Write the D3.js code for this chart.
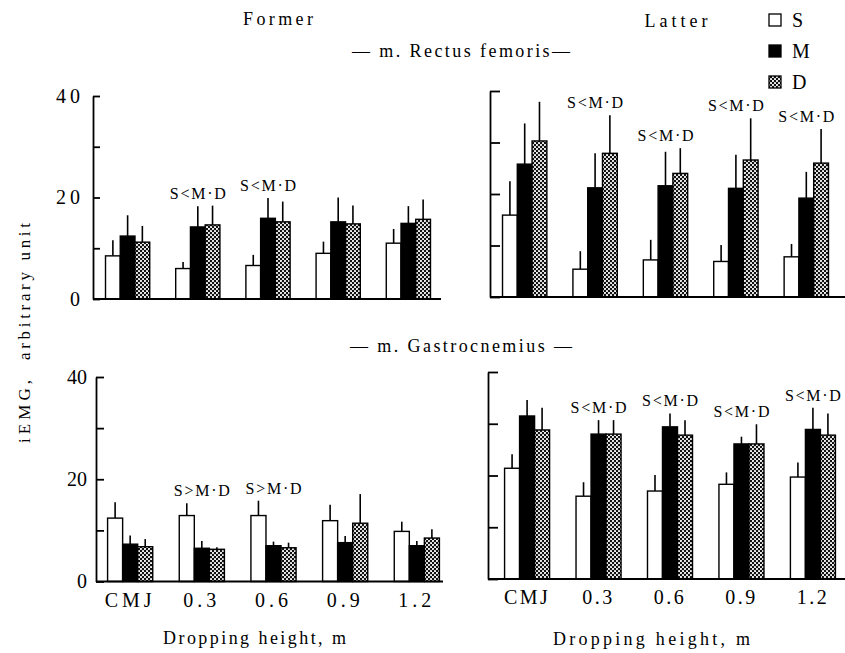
<!DOCTYPE html>
<html>
<head>
<meta charset="utf-8">
<script src="https://cdn.jsdelivr.net/npm/d3@7"></script>
<style>
  body { margin: 0; background: #fff; }
  svg { display: block; }
  text { font-family: "Liberation Serif", "DejaVu Serif", serif; fill: #000; }
</style>
</head>
<body>
<svg id="chart" width="845" height="653"></svg>
<script>
// Dropping-height conditions and jump types
const categories = ["CMJ", "0.3", "0.6", "0.9", "1.2"];
const seriesNames = ["S", "M", "D"];

// m. Rectus femoris, former phase (mean and SD)
const rfFormerS = [8.5, 6.0, 6.6, 9.0, 11.0];
const rfFormerSsd = [3.1, 1.3, 2.1, 2.3, 2.8];
const rfFormerM = [12.4, 14.2, 15.9, 15.2, 14.9];
const rfFormerMsd = [4.1, 4.1, 4.0, 4.8, 3.4];
const rfFormerD = [11.2, 14.6, 15.2, 14.8, 15.7];
const rfFormerDsd = [3.2, 3.8, 4.0, 3.6, 3.9];
const rfFormerSig = ["", "S<M·D", "S<M·D", "", ""];

// m. Rectus femoris, latter phase
const rfLatterS = [15.9, 5.4, 7.2, 6.9, 7.8];
const rfLatterSsd = [6.6, 3.5, 3.9, 3.2, 2.5];
const rfLatterM = [25.8, 21.2, 21.6, 21.1, 19.2];
const rfLatterMsd = [7.9, 6.7, 6.6, 6.5, 5.1];
const rfLatterD = [30.3, 27.9, 24.0, 26.6, 26.0];
const rfLatterDsd = [7.6, 7.4, 4.9, 8.1, 6.6];
const rfLatterSig = ["", "S<M·D", "S<M·D", "S<M·D", "S<M·D"];

// m. Gastrocnemius, former phase
const gaFormerS = [12.4, 12.9, 12.9, 11.9, 9.8];
const gaFormerSsd = [3.1, 2.4, 2.9, 3.1, 1.9];
const gaFormerM = [7.3, 6.5, 7.0, 7.6, 7.0];
const gaFormerMsd = [1.7, 1.4, 0.8, 1.3, 0.9];
const gaFormerD = [6.8, 6.3, 6.6, 11.4, 8.5];
const gaFormerDsd = [1.5, 0.4, 1.0, 5.7, 1.7];
const gaFormerSig = ["", "S>M·D", "S>M·D", "", ""];

// m. Gastrocnemius, latter phase
const gaLatterS = [21.4, 16.0, 17.0, 18.3, 19.7];
const gaLatterSsd = [2.7, 2.7, 3.1, 2.3, 2.8];
const gaLatterM = [31.5, 28.0, 29.4, 26.1, 28.9];
const gaLatterMsd = [3.1, 2.7, 2.6, 1.4, 4.2];
const gaLatterD = [28.8, 28.0, 27.8, 26.1, 27.8];
const gaLatterDsd = [4.3, 2.7, 2.9, 3.8, 4.2];
const gaLatterSig = ["", "S<M·D", "S<M·D", "S<M·D", "S<M·D"];

const yTicks = [0, 10, 20, 30, 40];

const svg = d3.select("#chart");

// stippled fill for the D series
const defs = svg.append("defs");
const pat = defs.append("pattern")
  .attr("id", "dots").attr("width", 4).attr("height", 4)
  .attr("patternUnits", "userSpaceOnUse");
pat.append("rect").attr("width", 4).attr("height", 4).attr("fill", "#111");
pat.append("circle").attr("cx", 1).attr("cy", 1).attr("r", 1.05).attr("fill", "#fff");
pat.append("circle").attr("cx", 3).attr("cy", 3).attr("r", 1.05).attr("fill", "#fff");

const fills = { S: "#fff", M: "#000", D: "url(#dots)" };

const panels = [
  { axisX: 93, yRange: [299, 96], band: [102, 434], lineEnd: 441, tick: 7,
    labels: true, labelSpacing: 4,
    mean: { S: rfFormerS, M: rfFormerM, D: rfFormerD },
    sd: { S: rfFormerSsd, M: rfFormerMsd, D: rfFormerDsd }, sig: rfFormerSig },
  { axisX: 490, yRange: [297, 91], band: [499, 832], lineEnd: 845, tick: 10,
    labels: false,
    mean: { S: rfLatterS, M: rfLatterM, D: rfLatterD },
    sd: { S: rfLatterSsd, M: rfLatterMsd, D: rfLatterDsd }, sig: rfLatterSig },
  { axisX: 96, yRange: [581.5, 377], band: [104, 443], lineEnd: 443, tick: 8,
    labels: true, labelSpacing: 0, xLabels: true, xSpacing: 4,
    mean: { S: gaFormerS, M: gaFormerM, D: gaFormerD },
    sd: { S: gaFormerSsd, M: gaFormerMsd, D: gaFormerDsd }, sig: gaFormerSig },
  { axisX: 488, yRange: [579, 372], band: [501, 839], lineEnd: 845, tick: 10,
    labels: false, xLabels: true, xSpacing: 2.5,
    mean: { S: gaLatterS, M: gaLatterM, D: gaLatterD },
    sd: { S: gaLatterSsd, M: gaLatterMsd, D: gaLatterDsd }, sig: gaLatterSig }
];

panels.forEach(p => {
  const g = svg.append("g");
  const y = d3.scaleLinear().domain([0, 40]).range(p.yRange);
  const x0 = d3.scaleBand().domain(categories).range(p.band)
    .paddingInner(0.37).paddingOuter(0.05);
  const x1 = d3.scaleBand().domain(seriesNames).range([0, x0.bandwidth()]);

  const rows = [];
  categories.forEach((c, i) => {
    seriesNames.forEach(s => {
      rows.push({ c, s, v: p.mean[s][i], e: p.sd[s][i] });
    });
  });

  // error bars (upper side only)
  g.selectAll("line.err").data(rows).join("line")
    .attr("class", "err")
    .attr("x1", d => x0(d.c) + x1(d.s) + x1.bandwidth() / 2)
    .attr("x2", d => x0(d.c) + x1(d.s) + x1.bandwidth() / 2)
    .attr("y1", d => y(d.v))
    .attr("y2", d => y(d.v + d.e))
    .attr("stroke", "#000").attr("stroke-width", 1.6);

  // bars
  g.selectAll("rect.bar").data(rows).join("rect")
    .attr("class", "bar")
    .attr("x", d => x0(d.c) + x1(d.s))
    .attr("y", d => y(d.v))
    .attr("width", x1.bandwidth())
    .attr("height", d => y(0) - y(d.v))
    .attr("fill", d => fills[d.s])
    .attr("stroke", "#000").attr("stroke-width", 1.4);

  // significance notes above each group
  const sigRows = categories.map((c, i) => ({
    c, t: p.sig[i],
    top: d3.max(seriesNames, s => p.mean[s][i] + p.sd[s][i])
  })).filter(d => d.t);
  g.selectAll("text.sig").data(sigRows).join("text")
    .attr("class", "sig")
    .attr("x", d => x0(d.c) + x0.bandwidth() / 2)
    .attr("y", d => y(d.top) - 7)
    .attr("text-anchor", "middle")
    .attr("font-size", 16)
    .attr("textLength", 56).attr("lengthAdjust", "spacing")
    .text(d => d.t);

  // baseline
  g.append("line")
    .attr("x1", p.axisX).attr("x2", p.lineEnd)
    .attr("y1", y(0)).attr("y2", y(0))
    .attr("stroke", "#000").attr("stroke-width", 1.8);

  // value axis with inward ticks
  const ax = g.append("g")
    .attr("transform", `translate(${p.axisX},0)`)
    .call(d3.axisLeft(y).tickValues(yTicks)
      .tickSizeInner(-p.tick).tickSizeOuter(0).tickPadding(9)
      .tickFormat(d => (p.labels && d % 20 === 0) ? d : ""));
  ax.select(".domain").attr("stroke-width", 1.8);
  ax.selectAll(".tick line").attr("stroke-width", 1.8);
  ax.selectAll(".tick text")
    .attr("font-size", 20)
    .attr("font-family", '"Liberation Serif", serif')
    .attr("letter-spacing", p.labelSpacing || 0);

  // category labels under the lower panels
  if (p.xLabels) {
    const xa = g.append("g")
      .attr("transform", `translate(0,${y(0)})`)
      .call(d3.axisBottom(x0).tickSize(0).tickPadding(11));
    xa.select(".domain").remove();
    xa.selectAll(".tick text")
      .attr("font-size", 20)
      .attr("font-family", '"Liberation Serif", serif')
      .attr("letter-spacing", p.xSpacing);
  }
});

// headings
function label(txt, x, yPos, size, len) {
  const t = svg.append("text")
    .attr("x", x).attr("y", yPos)
    .attr("text-anchor", "middle")
    .attr("font-size", size)
    .text(txt);
  if (len) t.attr("textLength", len).attr("lengthAdjust", "spacing");
  return t;
}
label("Former", 278, 25, 18, 70);
label("Latter", 676, 27, 18, 63);
label("— m. Rectus femoris—", 461, 57, 18, 218);
label("— m. Gastrocnemius —", 461, 352, 18, 222);
label("Dropping height, m", 254.5, 644, 18, 183);
label("Dropping height, m", 651.5, 645, 18, 197);

// y-axis title
svg.append("text")
  .attr("transform", "translate(30,411.5) rotate(-90)")
  .attr("text-anchor", "middle").attr("font-size", 17)
  .attr("textLength", 63).attr("lengthAdjust", "spacing")
  .text("iEMG,");
svg.append("text")
  .attr("transform", "translate(30,291.5) rotate(-90)")
  .attr("text-anchor", "middle").attr("font-size", 17)
  .attr("textLength", 137).attr("lengthAdjust", "spacing")
  .text("arbitrary unit");

// legend
const ly = d3.scalePoint().domain(seriesNames).range([20, 82]);
const leg = svg.append("g");
leg.selectAll("rect").data(seriesNames).join("rect")
  .attr("x", 769).attr("y", d => ly(d) - 6)
  .attr("width", 12).attr("height", 12)
  .attr("fill", d => fills[d])
  .attr("stroke", "#000").attr("stroke-width", 1.3);
leg.selectAll("text").data(seriesNames).join("text")
  .attr("x", 792).attr("y", d => ly(d) + 7)
  .attr("font-size", 20)
  .text(d => d);
</script>
</body>
</html>
